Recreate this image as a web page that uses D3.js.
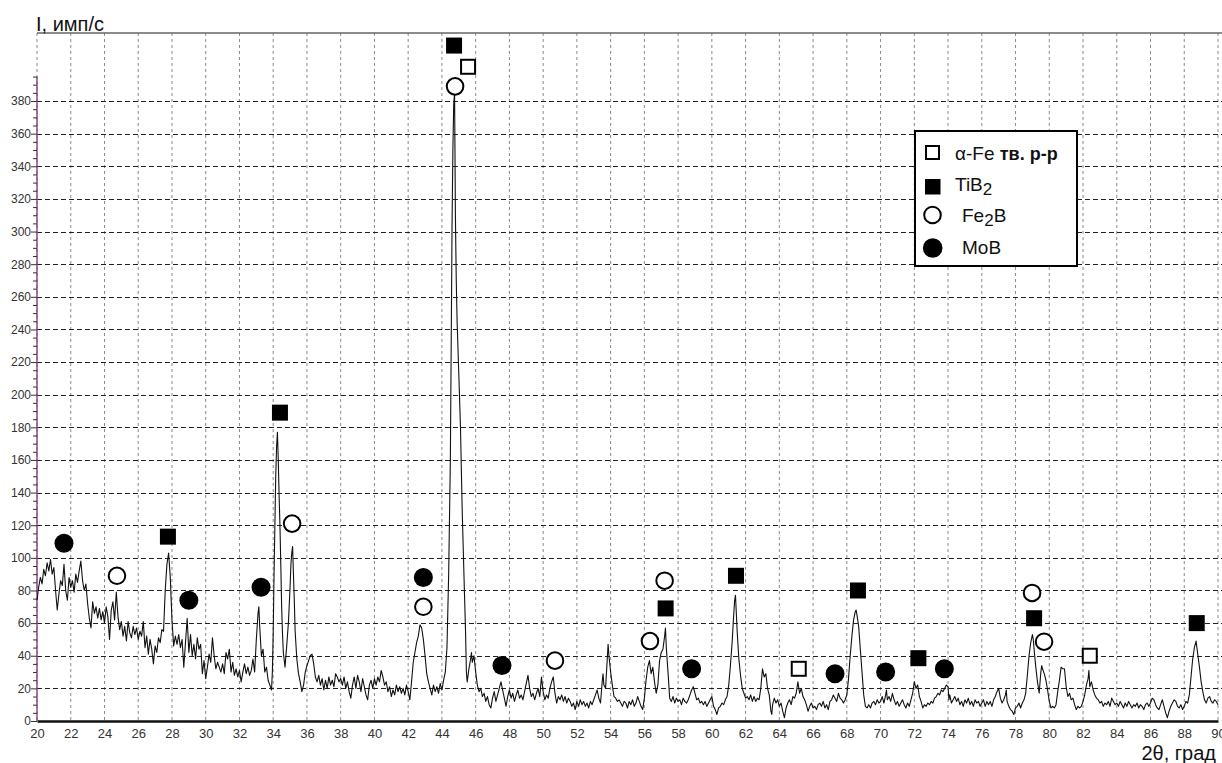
<!DOCTYPE html>
<html>
<head>
<meta charset="utf-8">
<script src="https://cdn.jsdelivr.net/npm/d3@7"></script>
<style>
  body { margin: 0; background: #fff; }
  svg { display: block; font-family: "Liberation Sans", Arial, sans-serif; }
</style>
</head>
<body>
<svg id="chart" width="1222" height="763"></svg>
<script>
// XRD pattern: [2theta, intensity]
var pattern = [
  [20.0,74],[20.1,82],[20.2,88],[20.3,84],[20.4,93],[20.5,89],[20.6,97],[20.7,92],[20.8,99],[20.9,90],
  [21.0,94],[21.1,80],[21.2,68],[21.3,78],[21.4,86],[21.5,83],[21.6,96],[21.7,80],[21.8,74],[21.9,88],
  [22.0,82],[22.1,86],[22.2,79],[22.3,90],[22.4,85],[22.5,92],[22.6,98],[22.7,86],[22.8,80],[22.9,84],
  [23.0,72],[23.1,63],[23.2,57],[23.3,73],[23.4,66],[23.5,70],[23.6,63],[23.7,69],[23.8,62],[23.9,67],
  [24.0,60],[24.1,70],[24.2,64],[24.3,50],[24.4,68],[24.5,73],[24.6,62],[24.7,79],[24.8,64],[24.9,56],
  [25.0,61],[25.1,52],[25.2,58],[25.3,49],[25.4,61],[25.5,54],[25.6,51],[25.7,58],[25.8,53],[25.9,57],
  [26.0,50],[26.1,55],[26.2,52],[26.3,61],[26.4,45],[26.5,52],[26.6,41],[26.7,50],[26.8,44],[26.9,35],
  [27.0,46],[27.1,42],[27.2,51],[27.3,48],[27.4,56],[27.5,55],[27.6,80],[27.7,96],[27.8,103],[27.9,88],
  [28.0,62],[28.1,46],[28.2,52],[28.3,47],[28.4,53],[28.5,45],[28.6,50],[28.7,33],[28.8,48],[28.9,63],
  [29.0,42],[29.1,53],[29.2,40],[29.3,47],[29.4,38],[29.5,51],[29.6,44],[29.7,47],[29.8,29],[29.9,37],
  [30.0,26],[30.1,33],[30.2,41],[30.3,36],[30.4,51],[30.5,40],[30.6,32],[30.7,36],[30.8,33],[30.9,30],
  [31.0,35],[31.1,29],[31.2,42],[31.3,38],[31.4,44],[31.5,30],[31.6,36],[31.7,28],[31.8,32],[31.9,27],
  [32.0,31],[32.1,24],[32.2,30],[32.3,35],[32.4,29],[32.5,33],[32.6,28],[32.7,31],[32.8,38],[32.9,30],
  [33.0,50],[33.1,66],[33.15,70],[33.2,58],[33.3,40],[33.4,44],[33.5,30],[33.6,33],[33.7,25],[33.8,22],
  [33.9,19],[33.95,30],[34.0,54],[34.05,90],[34.1,120],[34.15,150],[34.2,168],[34.25,177],[34.3,160],
  [34.35,138],[34.4,120],[34.45,96],[34.5,70],[34.55,54],[34.6,42],[34.7,33],[34.8,46],[34.9,60],
  [35.0,82],[35.05,96],[35.1,103],[35.15,107],[35.2,90],[35.25,74],[35.3,55],[35.4,38],[35.5,29],
  [35.6,24],[35.7,18],[35.8,22],[35.9,30],[36.0,34],[36.1,37],[36.2,40],[36.3,41],[36.4,35],[36.5,27],
  [36.6,24],[36.7,28],[36.8,22],[36.9,26],[37.0,19],[37.1,25],[37.2,20],[37.3,27],[37.4,22],[37.5,25],
  [37.6,21],[37.7,29],[37.8,27],[37.9,24],[38.0,26],[38.1,22],[38.2,27],[38.3,20],[38.4,24],[38.5,18],
  [38.6,14],[38.7,22],[38.8,27],[38.9,20],[39.0,28],[39.1,24],[39.2,18],[39.3,26],[39.4,21],[39.5,16],
  [39.6,13],[39.7,22],[39.8,25],[39.9,20],[40.0,26],[40.1,22],[40.2,27],[40.3,24],[40.4,31],[40.5,27],
  [40.6,22],[40.7,24],[40.8,18],[40.9,21],[41.0,15],[41.1,19],[41.2,16],[41.3,22],[41.4,18],[41.5,21],
  [41.6,17],[41.7,20],[41.8,16],[41.9,22],[42.0,18],[42.1,13],[42.2,24],[42.3,36],[42.4,42],[42.5,48],
  [42.6,52],[42.7,59],[42.8,57],[42.9,50],[43.0,40],[43.1,29],[43.2,24],[43.3,20],[43.4,16],[43.5,22],
  [43.6,18],[43.7,21],[43.8,17],[43.9,23],[44.0,19],[44.1,25],[44.2,30],[44.3,45],[44.4,90],[44.5,160],
  [44.55,230],[44.6,303],[44.65,350],[44.7,378],[44.75,385],[44.8,310],[44.85,270],[44.9,245],
  [45.0,213],[45.1,180],[45.15,155],[45.2,130],[45.3,92],[45.4,55],[45.45,30],[45.5,24],[45.6,32],
  [45.7,38],[45.75,42],[45.8,36],[45.9,40],[46.0,30],[46.1,22],[46.2,18],[46.3,20],[46.4,15],[46.5,17],
  [46.6,12],[46.7,15],[46.8,10],[46.9,8],[47.0,14],[47.1,18],[47.2,12],[47.3,16],[47.4,20],[47.5,24],
  [47.6,19],[47.7,14],[47.8,9],[47.9,15],[48.0,19],[48.1,14],[48.2,17],[48.3,12],[48.4,16],[48.5,19],
  [48.6,14],[48.7,16],[48.8,13],[48.9,18],[49.0,23],[49.1,28],[49.2,20],[49.3,15],[49.4,17],[49.5,13],
  [49.6,17],[49.7,20],[49.8,15],[49.9,27],[50.0,18],[50.1,13],[50.2,16],[50.3,14],[50.4,20],[50.5,24],
  [50.6,27],[50.7,17],[50.8,11],[50.9,15],[51.0,13],[51.1,16],[51.2,12],[51.3,15],[51.4,11],[51.5,14],
  [51.6,12],[51.7,9],[51.8,11],[51.9,7],[52.0,12],[52.1,9],[52.2,13],[52.3,10],[52.4,12],[52.5,9],
  [52.6,11],[52.7,8],[52.8,12],[52.9,10],[53.0,13],[53.1,16],[53.2,19],[53.3,14],[53.4,11],[53.5,24],
  [53.55,29],[53.6,22],[53.7,20],[53.8,38],[53.85,47],[53.9,40],[54.0,30],[54.1,22],[54.2,15],[54.3,14],
  [54.4,12],[54.5,13],[54.6,11],[54.7,9],[54.8,12],[54.9,11],[55.0,8],[55.1,12],[55.2,10],[55.3,13],
  [55.4,9],[55.5,11],[55.6,15],[55.7,12],[55.8,9],[55.9,7],[56.0,14],[56.1,25],[56.2,33],[56.3,37],
  [56.4,29],[56.5,33],[56.6,24],[56.7,17],[56.8,22],[56.9,37],[57.0,42],[57.1,44],[57.2,52],[57.25,57],
  [57.3,45],[57.4,30],[57.5,14],[57.6,12],[57.7,15],[57.8,11],[57.9,14],[58.0,12],[58.1,13],[58.2,10],
  [58.3,14],[58.4,12],[58.5,11],[58.6,13],[58.7,16],[58.8,19],[58.9,21],[59.0,17],[59.1,13],[59.2,14],
  [59.3,11],[59.4,12],[59.5,10],[59.6,12],[59.7,9],[59.8,11],[59.9,13],[60.0,15],[60.1,9],[60.2,7],
  [60.3,4],[60.4,8],[60.5,9],[60.6,11],[60.7,10],[60.8,13],[60.9,15],[61.0,22],[61.1,34],[61.2,48],
  [61.3,66],[61.35,74],[61.4,77],[61.45,66],[61.5,55],[61.6,38],[61.7,28],[61.8,20],[61.9,17],[62.0,14],
  [62.1,15],[62.2,13],[62.3,16],[62.4,12],[62.5,15],[62.6,12],[62.7,14],[62.8,13],[62.9,20],[63.0,32],
  [63.1,27],[63.2,29],[63.3,20],[63.4,16],[63.5,6],[63.55,4],[63.6,10],[63.7,14],[63.8,11],[63.9,13],
  [64.0,9],[64.1,11],[64.2,6],[64.3,2],[64.4,8],[64.5,11],[64.6,13],[64.7,10],[64.8,15],[64.9,14],
  [65.0,17],[65.1,24],[65.2,17],[65.3,20],[65.4,15],[65.5,13],[65.6,10],[65.7,6],[65.8,9],[65.9,11],
  [66.0,8],[66.1,9],[66.2,7],[66.3,10],[66.4,11],[66.5,9],[66.6,12],[66.7,8],[66.8,10],[66.9,7],
  [67.0,12],[67.1,13],[67.2,16],[67.3,14],[67.4,12],[67.5,17],[67.6,14],[67.7,13],[67.8,11],[67.9,13],
  [68.0,16],[68.1,26],[68.2,40],[68.3,52],[68.4,62],[68.5,67],[68.55,68],[68.6,65],[68.7,58],[68.8,44],
  [68.9,30],[69.0,16],[69.1,9],[69.2,8],[69.3,10],[69.4,8],[69.5,11],[69.6,12],[69.7,10],[69.8,13],
  [69.9,11],[70.0,12],[70.1,15],[70.2,11],[70.3,16],[70.35,19],[70.4,13],[70.5,15],[70.6,12],[70.7,17],
  [70.8,13],[70.9,10],[71.0,12],[71.1,9],[71.2,11],[71.3,13],[71.4,10],[71.5,8],[71.6,11],[71.7,9],
  [71.8,13],[71.9,17],[72.0,24],[72.1,20],[72.2,22],[72.3,15],[72.4,12],[72.5,8],[72.6,10],[72.7,9],
  [72.8,11],[72.9,10],[73.0,12],[73.1,11],[73.2,14],[73.3,15],[73.4,17],[73.5,16],[73.6,19],[73.7,18],
  [73.8,20],[73.9,22],[74.0,21],[74.05,13],[74.1,16],[74.2,11],[74.3,13],[74.4,15],[74.5,12],[74.6,14],
  [74.7,10],[74.8,12],[74.9,9],[75.0,13],[75.1,11],[75.2,14],[75.3,10],[75.4,12],[75.5,9],[75.6,13],
  [75.7,11],[75.8,12],[75.9,9],[76.0,11],[76.1,13],[76.2,9],[76.3,12],[76.4,10],[76.5,12],[76.6,9],
  [76.7,13],[76.8,15],[76.9,18],[77.0,20],[77.1,14],[77.2,11],[77.3,13],[77.4,16],[77.45,19],[77.5,12],
  [77.6,9],[77.7,7],[77.8,6],[77.9,4],[78.0,8],[78.1,9],[78.2,11],[78.3,8],[78.4,11],[78.5,13],
  [78.6,17],[78.7,28],[78.8,40],[78.9,48],[79.0,53],[79.05,50],[79.1,44],[79.2,33],[79.3,24],[79.4,17],
  [79.5,30],[79.55,34],[79.6,32],[79.7,29],[79.8,25],[79.9,19],[80.0,12],[80.1,8],[80.2,9],[80.3,8],
  [80.4,10],[80.5,18],[80.6,25],[80.7,33],[80.8,32],[80.9,32],[81.0,21],[81.1,15],[81.2,17],[81.3,13],
  [81.4,14],[81.5,10],[81.6,7],[81.7,9],[81.8,8],[81.9,9],[82.0,12],[82.1,16],[82.2,22],[82.3,26],
  [82.35,31],[82.4,21],[82.5,24],[82.6,19],[82.7,16],[82.8,14],[82.9,13],[83.0,11],[83.1,12],[83.2,9],
  [83.3,11],[83.4,10],[83.5,12],[83.6,9],[83.7,14],[83.8,12],[83.9,10],[84.0,11],[84.1,9],[84.2,12],
  [84.3,10],[84.4,8],[84.5,11],[84.6,9],[84.7,12],[84.8,10],[84.9,8],[85.0,10],[85.1,9],[85.2,11],
  [85.3,8],[85.4,10],[85.5,9],[85.6,7],[85.7,10],[85.8,11],[85.9,9],[86.0,11],[86.1,14],[86.2,13],
  [86.3,10],[86.4,8],[86.5,7],[86.6,10],[86.7,13],[86.8,9],[86.9,5],[87.0,2],[87.1,6],[87.2,9],
  [87.3,11],[87.4,13],[87.5,12],[87.6,9],[87.7,8],[87.8,10],[87.9,7],[88.0,9],[88.1,12],[88.2,11],
  [88.3,16],[88.4,27],[88.5,38],[88.6,45],[88.7,49],[88.75,45],[88.8,41],[88.9,33],[89.0,24],[89.1,18],
  [89.2,13],[89.3,11],[89.4,14],[89.5,15],[89.6,12],[89.7,11],[89.8,13],[89.9,12],[90.0,10]
];

// phase marks: [2theta, intensity]
var alphaFe = [[45.55,401],[65.15,32],[82.4,40]];
var tiB2 = [[27.76,113],[34.4,189],[44.72,414],[57.26,69],[61.43,89],[68.66,80],[72.24,38.5],[79.1,63],[88.74,60]];
var fe2B = [[24.74,89],[35.12,121],[42.9,70],[44.78,389],[50.7,37],[56.33,49],[57.2,86],[78.98,78.5],[79.69,48.6]];
var moB = [[21.6,109],[29.0,74],[33.28,82],[42.9,88],[47.56,34],[58.8,32],[67.3,29],[70.3,30],[73.78,32]];

var xTicks = d3.range(20, 91, 2);
var yGrid = d3.range(20, 381, 20);
var yTicks = d3.range(0, 396, 5);

var svg = d3.select('#chart');
var x = d3.scaleLinear().domain([20, 90]).range([37, 1218]);
var y = d3.scaleLinear().domain([0, 421.7]).range([721, 33]);

// vertical grid (dotted grey)
svg.append('g')
    .selectAll('line')
    .data(xTicks)
    .enter()
    .append('line')
    .attr('x1', function(d){return x(d);})
    .attr('x2', function(d){return x(d);})
    .attr('y1', y.range()[1])
    .attr('y2', y(0))
    .attr('stroke', '#8a8a8a')
    .attr('stroke-width', 1)
    .attr('stroke-dasharray', '3,3');

// horizontal grid (dashed black)
svg.append('g')
    .selectAll('line')
    .data(yGrid)
    .enter()
    .append('line')
    .attr('x1', x(20))
    .attr('x2', 1222)
    .attr('y1', function(d){return Math.round(y(d)) + 0.5;})
    .attr('y2', function(d){return Math.round(y(d)) + 0.5;})
    .attr('stroke', '#222')
    .attr('stroke-width', 1.2)
    .attr('stroke-dasharray', '5,3');

// top border
svg.append('line')
    .attr('x1', x(20)).attr('x2', 1222)
    .attr('y1', 33).attr('y2', 33)
    .attr('stroke', '#666').attr('stroke-width', 1.5);

// y axis with minor ticks every 5
var yAxis = svg.append('g')
    .attr('transform', 'translate(' + x(20) + ',0)')
    .call(d3.axisLeft(y)
        .tickValues(yTicks)
        .tickSize(5)
        .tickFormat(function(d){return (d % 20 === 0) ? d : '';}));
yAxis.select('.domain')
    .attr('stroke', '#8e4a8e')
    .attr('stroke-width', 1.5)
    .attr('d', 'M0,' + y(0) + 'V' + y(395));
yAxis.selectAll('.tick line')
    .attr('stroke', '#333')
    .attr('x2', function(d){return (d % 20 === 0) ? -6 : -4;});
yAxis.selectAll('.tick text')
    .attr('x', -6)
    .attr('fill', '#333')
    .attr('font-size', 12)
    .attr('font-family', '"Liberation Sans", Arial, sans-serif');

// x axis
var xAxis = svg.append('g')
    .attr('transform', 'translate(0,' + y(0) + ')')
    .call(d3.axisBottom(x).tickValues(xTicks).tickSize(0).tickPadding(8));
xAxis.select('.domain').attr('stroke', '#111').attr('stroke-width', 2.5);
xAxis.selectAll('.tick text')
    .attr('fill', '#333')
    .attr('font-size', 13)
    .attr('font-family', '"Liberation Sans", Arial, sans-serif');

// pattern line
var line = d3.line()
    .x(function(d){return x(d[0]);})
    .y(function(d){return y(d[1]);});
svg.append('path')
    .datum(pattern)
    .attr('d', line)
    .attr('fill', 'none')
    .attr('stroke', '#111')
    .attr('stroke-width', 1.1)
    .attr('stroke-linejoin', 'round');

// phase markers
var marks = svg.append('g');
marks.selectAll('.afe').data(alphaFe).enter().append('rect')
    .attr('x', function(d){return x(d[0]) - 7;})
    .attr('y', function(d){return y(d[1]) - 7;})
    .attr('width', 14).attr('height', 14)
    .attr('fill', '#fff').attr('stroke', '#000').attr('stroke-width', 2);
marks.selectAll('.tib').data(tiB2).enter().append('rect')
    .attr('x', function(d){return x(d[0]) - 8;})
    .attr('y', function(d){return y(d[1]) - 8;})
    .attr('width', 16).attr('height', 16)
    .attr('fill', '#000');
marks.selectAll('.feb').data(fe2B).enter().append('circle')
    .attr('cx', function(d){return x(d[0]);})
    .attr('cy', function(d){return y(d[1]);})
    .attr('r', 8.3)
    .attr('fill', '#fff').attr('stroke', '#000').attr('stroke-width', 2);
marks.selectAll('.mob').data(moB).enter().append('circle')
    .attr('cx', function(d){return x(d[0]);})
    .attr('cy', function(d){return y(d[1]);})
    .attr('r', 9.5)
    .attr('fill', '#000');

// axis titles
svg.append('text')
    .attr('x', 36).attr('y', 31)
    .attr('font-size', 20).attr('fill', '#111')
    .text('I, имп/с');
svg.append('text')
    .attr('x', 1216).attr('y', 760)
    .attr('text-anchor', 'end')
    .attr('font-size', 20).attr('fill', '#111')
    .text('2θ, град');

// legend
var lg = svg.append('g');
lg.append('rect')
    .attr('x', 915).attr('y', 131).attr('width', 162).attr('height', 135)
    .attr('fill', '#fff').attr('stroke', '#000').attr('stroke-width', 2);
lg.append('rect')
    .attr('x', 926).attr('y', 146).attr('width', 13).attr('height', 13)
    .attr('fill', '#fff').attr('stroke', '#000').attr('stroke-width', 2);
lg.append('rect')
    .attr('x', 925).attr('y', 179).attr('width', 15.5).attr('height', 15.5)
    .attr('fill', '#000');
lg.append('circle')
    .attr('cx', 932.5).attr('cy', 215).attr('r', 8.3)
    .attr('fill', '#fff').attr('stroke', '#000').attr('stroke-width', 2);
lg.append('circle')
    .attr('cx', 932.7).attr('cy', 248).attr('r', 9.8)
    .attr('fill', '#000');

var t1 = lg.append('text').attr('x', 955).attr('y', 160).attr('font-size', 19).attr('fill', '#111');
t1.append('tspan').text('α-Fe ');
t1.append('tspan').attr('font-weight', 'bold').attr('font-size', 18).text('тв. р-р');
var t2 = lg.append('text').attr('x', 955).attr('y', 191).attr('font-size', 19).attr('fill', '#111');
t2.append('tspan').text('TiB');
t2.append('tspan').attr('dy', 4).attr('font-size', 17).text('2');
var t3 = lg.append('text').attr('x', 962).attr('y', 222).attr('font-size', 19).attr('fill', '#111');
t3.append('tspan').text('Fe');
t3.append('tspan').attr('dy', 4).attr('font-size', 17).text('2');
t3.append('tspan').attr('dy', -4).text('B');
lg.append('text').attr('x', 962).attr('y', 254).attr('font-size', 19).attr('fill', '#111').text('MoB');
</script>
</body>
</html>
